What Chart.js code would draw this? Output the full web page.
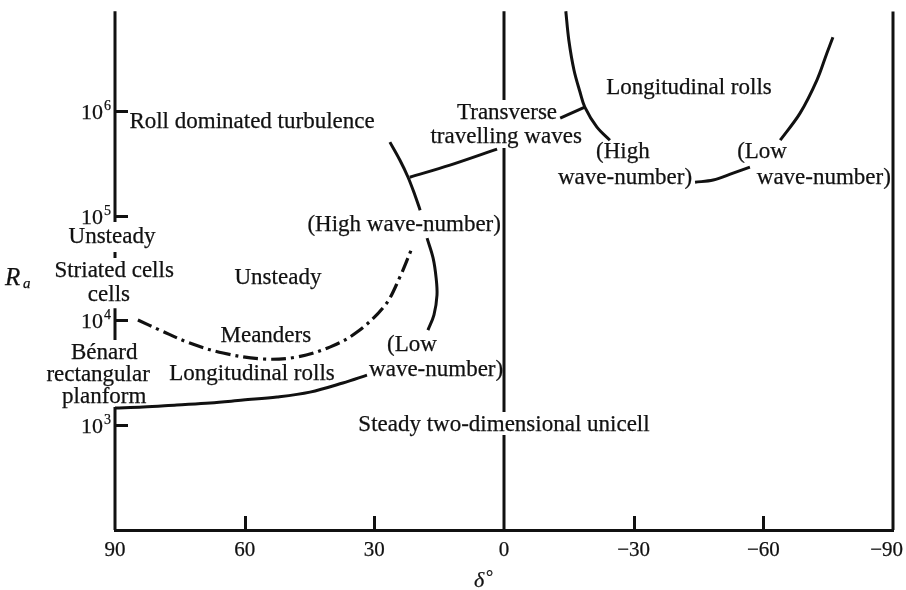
<!DOCTYPE html>
<html>
<head>
<meta charset="utf-8">
<script src="https://cdn.jsdelivr.net/npm/chart.js@4/dist/chart.umd.min.js"></script>
<style>
  html, body { margin: 0; padding: 0; background: #ffffff; }
  #wrap { width: 906px; height: 590px; }
</style>
</head>
<body>
<div id="wrap"><canvas id="regime" width="906" height="590"></canvas></div>
<script>
// Flow regimes in an inclined convection slot: Rayleigh number Ra against inclination δ (degrees)

const xTickValues = [90, 60, 30, 0, -30, -60, -90];
const xTickLabels = ['90', '60', '30', '0', '\u221230', '\u221260', '\u221290'];
const yTickValues = [1e3, 1e4, 1e5, 1e6];
const yTickExponents = ['3', '4', '5', '6'];

// Onset of longitudinal rolls from the steady unicell (left branch)
const rollOnsetDelta = [90, 83.5, 75.7, 68.0, 60.4, 52.5, 44.9, 37.3, 31.7];
const rollOnsetRa    = [1460, 1490, 1560, 1630, 1740, 1860, 2070, 2530, 3010];

// Meanders boundary (dash-dot)
const meanderDelta = [84.7, 79.6, 72.7, 65.0, 55.8, 47.9, 40.3, 34.0, 27.5, 24.1, 21.3];
const meanderRa    = [10100, 8090, 6080, 4890, 4290, 4480, 5570, 7750, 14000, 25900, 49100];

// Low wave-number branch near δ = 15°
const lowWaveDelta = [17.8, 16.4, 15.7, 15.5, 16.2, 17.6];
const lowWaveRa    = [61100, 39400, 25400, 17500, 11300, 8090];

// High wave-number branch near δ = 20°
const highWaveDelta = [26.4, 24.1, 22.2, 20.6, 19.4];
const highWaveRa    = [504000, 340000, 233000, 157000, 113000];

// Leader from "travelling waves" to the high wave-number branch
const leaderLeftDelta = [21.8, 12.5, 1.6];
const leaderLeftRa    = [233000, 304000, 433000];

// Transverse travelling wave boundary for negative δ (high wave-number side)
const transHighDelta = [-14.3, -15.0, -16.2, -17.6, -18.7, -21.5, -24.5];
const transHighRa    = [8950000, 4740000, 2450000, 1510000, 1090000, 700000, 526000];

// Leader from "Transverse" to that boundary
const leaderRightDelta = [-13.0, -18.7];
const leaderRightRa    = [853000, 1090000];

// Bottom of the longitudinal roll region for negative δ
const rollBaseDelta = [-44.2, -48.4, -53.0, -56.9];
const rollBaseRa    = [209000, 219000, 255000, 291000];

// Low wave-number side for negative δ
const transLowDelta = [-63.9, -68.5, -72.4, -74.7, -76.1];
const transLowRa    = [526000, 953000, 1970000, 3560000, 5060000];

// Axis lines, broken where labels cross them
const leftAxisDelta = [90, 90, null, 90, 90, null, 90, 90, null, 90, 90];
const leftAxisRa    = [8960000, 86900, null, 45000, 39400, null, 13100, 6500, null, 1490, 100];
const zeroLineDelta = [0, 0, null, 0, 0, null, 0, 0];
const zeroLineRa    = [8960000, 1270000, null, 442000, 1340, null, 806, 100];
const rightLineDelta = [-90, -90];
const rightLineRa    = [8900000, 100];

// Region names and their anchor points (δ, Ra)
const regionText  = ['Roll dominated turbulence', 'Transverse', 'travelling waves', 'Longitudinal rolls',
  '(High', 'wave-number)', '(Low', 'wave-number)', '(High wave-number)', 'Unsteady',
  'Unsteady', 'Striated cells', 'cells', 'B\u00e9nard', 'rectangular', 'planform',
  'Meanders', 'Longitudinal rolls', '(Low', 'wave-number)', 'Steady two-dimensional unicell'];
const regionDelta = [58.3, -0.7, -0.5, -42.8, -27.5, -28.0, -59.7, -74.0, 23.1, 52.3,
  90.7, 90.2, 91.4, 92.5, 93.9, 92.5, 55.1, 58.3, 21.3, 15.7, 0.0];
const regionRa    = [782000, 953000, 562000, 1650000, 405000, 228000, 405000, 228000, 81300, 25400,
  62500, 29600, 17500, 4890, 3010, 1860, 7100, 3080, 5820, 3370, 1000];

const INK = '#111111';
const SERIF = '"Liberation Serif", "Times New Roman", serif';

function pairs(xs, ys) {
  return xs.map((v, i) => (v === null ? { x: null, y: null } : { x: v, y: ys[i] }));
}

function curve(xs, ys, extra) {
  return Object.assign({
    data: pairs(xs, ys),
    showLine: true,
    borderColor: INK,
    borderWidth: 3,
    pointRadius: 0,
    pointHoverRadius: 0,
    tension: 0.35,
    fill: false,
    spanGaps: false,
    clip: false
  }, extra || {});
}

// printed-looking text: fill plus a fine outline for a slightly heavier stroke
function inkText(ctx, t, px, py) {
  ctx.fillText(t, px, py);
  ctx.strokeText(t, px, py);
}

const overlay = {
  id: 'overlay',
  afterDraw(chart) {
    const { ctx, chartArea, scales } = chart;
    const x = scales.x, y = scales.y;
    ctx.save();
    ctx.strokeStyle = INK;
    ctx.fillStyle = INK;
    ctx.lineWidth = 3;
    ctx.lineCap = 'butt';

    // inward tick marks on the Ra axis
    yTickValues.forEach(v => {
      const py = Math.round(y.getPixelForValue(v)) + 0.5;
      ctx.beginPath();
      ctx.moveTo(chartArea.left, py);
      ctx.lineTo(chartArea.left + 13, py);
      ctx.stroke();
    });
    // inward tick marks on the δ axis
    xTickValues.filter(v => v !== 0 && Math.abs(v) !== 90).forEach(v => {
      const px = Math.round(x.getPixelForValue(v)) + 0.5;
      ctx.beginPath();
      ctx.moveTo(px, chartArea.bottom);
      ctx.lineTo(px, chartArea.bottom - 14);
      ctx.stroke();
    });

    ctx.lineWidth = 0.25;
    ctx.lineJoin = 'round';

    // δ tick labels, kept inside the canvas at the right end
    ctx.font = '21px ' + SERIF;
    ctx.textAlign = 'center';
    ctx.textBaseline = 'middle';
    xTickValues.forEach((v, i) => {
      const w = ctx.measureText(xTickLabels[i]).width;
      let px = x.getPixelForValue(v);
      px = Math.min(px, 903 - w / 2);
      inkText(ctx, xTickLabels[i], px, chartArea.bottom + 20);
    });

    // Ra tick labels: 10 with a raised exponent
    yTickValues.forEach((v, i) => {
      const py = y.getPixelForValue(v);
      ctx.textBaseline = 'alphabetic';
      ctx.font = '22px ' + SERIF;
      ctx.textAlign = 'right';
      inkText(ctx, '10', 103, py + 8);
      ctx.font = '14px ' + SERIF;
      ctx.textAlign = 'left';
      inkText(ctx, yTickExponents[i], 104, py - 1);
    });

    // region names
    ctx.font = '23px ' + SERIF;
    ctx.textAlign = 'center';
    ctx.textBaseline = 'middle';
    regionText.forEach((t, i) => {
      inkText(ctx, t, x.getPixelForValue(regionDelta[i]), y.getPixelForValue(regionRa[i]));
    });

    // axis titles
    ctx.textBaseline = 'alphabetic';
    ctx.textAlign = 'left';
    ctx.font = 'italic 25px ' + SERIF;
    inkText(ctx, 'R', 5, 285);
    ctx.font = 'italic 15px ' + SERIF;
    inkText(ctx, 'a', 23, 288);
    ctx.font = 'italic 22px ' + SERIF;
    inkText(ctx, '\u03b4', 474, 587);
    ctx.font = '18px ' + SERIF;
    inkText(ctx, '\u00b0', 486, 583);
    ctx.restore();
  }
};

new Chart(document.getElementById('regime'), {
  type: 'scatter',
  data: {
    datasets: [
      curve(leftAxisDelta, leftAxisRa, { tension: 0 }),
      curve(zeroLineDelta, zeroLineRa, { tension: 0 }),
      curve(rightLineDelta, rightLineRa, { tension: 0 }),
      curve(rollOnsetDelta, rollOnsetRa),
      curve(meanderDelta, meanderRa, { borderDash: [15, 5, 3, 5], borderWidth: 3.2 }),
      curve(lowWaveDelta, lowWaveRa),
      curve(highWaveDelta, highWaveRa),
      curve(leaderLeftDelta, leaderLeftRa),
      curve(transHighDelta, transHighRa),
      curve(leaderRightDelta, leaderRightRa, { tension: 0 }),
      curve(rollBaseDelta, rollBaseRa),
      curve(transLowDelta, transLowRa)
    ]
  },
  options: {
    responsive: false,
    animation: false,
    devicePixelRatio: 1,
    layout: { padding: { left: 0, right: 13, top: 11, bottom: 0 } },
    plugins: { legend: { display: false }, tooltip: { enabled: false } },
    scales: {
      x: {
        type: 'linear',
        min: -90,
        max: 90,
        reverse: true,
        afterBuildTicks: s => { s.ticks = xTickValues.map(v => ({ value: v })); },
        afterFit: s => { s.height = 60; s.paddingLeft = 0; s.paddingRight = 0; },
        grid: { display: false, drawTicks: false },
        border: { display: true, width: 3, color: INK },
        ticks: { display: false }
      },
      y: {
        type: 'logarithmic',
        min: 100,
        max: 9e6,
        afterBuildTicks: s => { s.ticks = yTickValues.map(v => ({ value: v })); },
        afterFit: s => { s.width = 115; s.paddingTop = 0; s.paddingBottom = 0; },
        grid: { display: false, drawTicks: false },
        border: { display: false },
        ticks: { display: false }
      }
    }
  },
  plugins: [overlay]
});
</script>
</body>
</html>
